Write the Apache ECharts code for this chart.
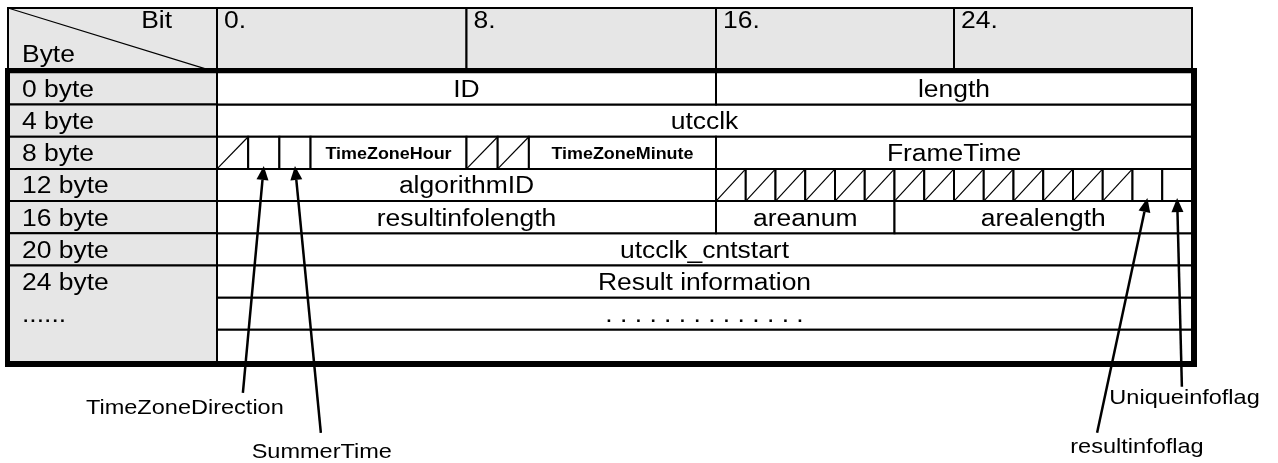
<!DOCTYPE html>
<html><head><meta charset="utf-8">
<script src="https://cdn.jsdelivr.net/npm/echarts@6/dist/echarts.min.js"></script>
<style>html,body{margin:0;padding:0;background:#fff}#c{width:1278px;height:463px}</style>
</head><body><div id="c"></div>
<script>
// ---------- data ----------
const cornerLabels = ['Bit', 'Byte'];
const lowBitHeaders = [[0, 8, '0.'], [8, 16, '8.']];
const highBitHeaders = [[16, 24, '16.'], [24, 32, '24.']];
// byte column cells: [fromRow, toRow, labels...]
const byteCells = [
  [0, 1, ['0 byte']],
  [1, 2, ['4 byte']],
  [2, 3, ['8 byte']],
  [3, 4, ['12 byte']],
  [4, 5, ['16 byte']],
  [5, 6, ['20 byte']],
  [6, 9, ['24 byte', '......']]
];
// fields: [row, fromBit, toBit, label, kind]
const lowFields = [
  [0, 0, 16, 'ID', 'text'],
  [2, 0, 1, '', 'reserved'],
  [2, 1, 2, '', 'flag'],
  [2, 2, 3, '', 'flag'],
  [2, 3, 8, 'TimeZoneHour', 'small'],
  [2, 8, 9, '', 'reserved'],
  [2, 9, 10, '', 'reserved'],
  [2, 10, 16, 'TimeZoneMinute', 'small'],
  [3, 0, 16, 'algorithmID', 'text'],
  [4, 0, 16, 'resultinfolength', 'text']
];
const highFields = [
  [0, 16, 32, 'length', 'text'],
  [2, 16, 32, 'FrameTime', 'text'],
  [3, 16, 17, '', 'reserved'],
  [3, 17, 18, '', 'reserved'],
  [3, 18, 19, '', 'reserved'],
  [3, 19, 20, '', 'reserved'],
  [3, 20, 21, '', 'reserved'],
  [3, 21, 22, '', 'reserved'],
  [3, 22, 23, '', 'reserved'],
  [3, 23, 24, '', 'reserved'],
  [3, 24, 25, '', 'reserved'],
  [3, 25, 26, '', 'reserved'],
  [3, 26, 27, '', 'reserved'],
  [3, 27, 28, '', 'reserved'],
  [3, 28, 29, '', 'reserved'],
  [3, 29, 30, '', 'reserved'],
  [3, 30, 31, '', 'flag'],
  [3, 31, 32, '', 'flag'],
  [4, 16, 22, 'areanum', 'text'],
  [4, 22, 32, 'arealength', 'text']
];
const fullFields = [
  [1, 0, 32, 'utcclk', 'text'],
  [5, 0, 32, 'utcclk_cntstart', 'text'],
  [6, 0, 32, 'Result information', 'text'],
  [7, 0, 32, '. . . . . . . . . . . . . .', 'text'],
  [8, 0, 32, '', 'text']
];
// callouts: [label, row, bit, lineEndBit, lineEndRow, labelBit, labelRow]
const lowCallouts = [
  ['TimeZoneDirection', 2, 1.5, 0.83, 9.96, -1.03, 10.43],
  ['SummerTime', 2, 2.5, 3.33, 11.2, 3.36, 11.79]
];
const highCallouts = [
  ['resultinfoflag', 3, 30.5, 28.81, 11.2, 30.15, 11.64],
  ['Uniqueinfoflag', 3, 31.5, 31.66, 9.77, 31.75, 10.12]
];

// ---------- style ----------
const FONT = '"Liberation Sans", Arial, Helvetica, sans-serif';
const STRETCH = 1.15;
const CALL_STRETCH = 1.12;
const MAIN = 23, SMALL = 16, CALL = 21;
const LINE = 2;
const GREY = '#e6e6e6';
const TEXT_DY = 2;

function txt(text, x, y, size, align, vAlign, bold, stretch) {
  return {
    type: 'text', x: x, y: y, scaleX: stretch || STRETCH, z2: 10,
    style: { text: text, x: 0, y: 0, fill: '#000', fontSize: size, fontFamily: FONT,
      fontWeight: bold ? 'bold' : 'normal', align: align, verticalAlign: vAlign }
  };
}
function rectOf(api, b0, r0, b1, r1) {
  const a = api.coord([b0, r0]), b = api.coord([b1, r1]);
  return { x: a[0], y: a[1], width: b[0] - a[0], height: b[1] - a[1] };
}
function fieldRender(list) {
  return function (params, api) {
    const f = list[params.dataIndex];
    const r = rectOf(api, f[1], f[0], f[2], f[0] + 1);
    const ch = [{ type: 'rect', shape: r, style: { fill: '#fff', stroke: '#000', lineWidth: LINE } }];
    if (f[4] === 'reserved') {
      ch.push({ type: 'line', shape: { x1: r.x, y1: r.y + r.height, x2: r.x + r.width, y2: r.y },
        style: { stroke: '#000', lineWidth: 1.2 } });
    }
    if (f[3]) {
      const small = f[4] === 'small';
      ch.push(txt(f[3], r.x + r.width / 2, r.y + r.height / 2 + TEXT_DY, small ? SMALL : MAIN, 'center', 'middle', small, small ? 1.12 : STRETCH));
    }
    return { type: 'group', children: ch };
  };
}
function bitHeaderRender(list) {
  return function (params, api) {
    const h = list[params.dataIndex];
    const r = rectOf(api, h[0], -2, h[1], 0);
    return { type: 'group', children: [
      { type: 'rect', shape: r, style: { fill: GREY, stroke: '#000', lineWidth: LINE } },
      txt(h[2], r.x + 7, r.y + 2, MAIN, 'left', 'top')
    ] };
  };
}
function cornerRender(params, api) {
  const r = rectOf(api, 0, -2, 1, 0);
  return { type: 'group', children: [
    { type: 'rect', shape: r, style: { fill: GREY, stroke: '#000', lineWidth: LINE } },
    { type: 'line', shape: { x1: r.x, y1: r.y, x2: r.x + r.width, y2: r.y + r.height }, style: { stroke: '#000', lineWidth: 1.2 } },
    txt(cornerLabels[0], r.x + r.width - 45, r.y + 2, MAIN, 'right', 'top'),
    txt(cornerLabels[1], r.x + 14, r.y + r.height - 5, MAIN, 'left', 'bottom')
  ] };
}
function byteRender(params, api) {
  const c = byteCells[params.dataIndex];
  const r = rectOf(api, 0, c[0], 1, c[1]);
  const ch = [{ type: 'rect', shape: r, style: { fill: GREY, stroke: '#000', lineWidth: LINE } }];
  c[2].forEach(function (lab, i) {
    const p = api.coord([0, c[0] + i + 0.5]);
    ch.push(txt(lab, p[0] + 14, p[1] + TEXT_DY, MAIN, 'left', 'middle'));
  });
  return { type: 'group', children: ch };
}
function calloutRender(list) {
  return function (params, api) {
    const c = list[params.dataIndex];
    const tip = api.coord([c[2], c[1] + 1]); tip[1] -= 3;
    const end = api.coord([c[3], c[4]]);
    const lab = api.coord([c[5], c[6]]);
    const dx = tip[0] - end[0], dy = tip[1] - end[1], len = Math.hypot(dx, dy);
    const ux = dx / len, uy = dy / len, L = 14, W = 6;
    const bx = tip[0] - ux * L, by = tip[1] - uy * L;
    return { type: 'group', children: [
      { type: 'line', shape: { x1: end[0], y1: end[1], x2: bx, y2: by }, style: { stroke: '#000', lineWidth: 2.5 } },
      { type: 'polygon', shape: { points: [tip, [bx - uy * W, by + ux * W], [bx + uy * W, by - ux * W]] }, style: { fill: '#000' } },
      txt(c[0], lab[0], lab[1], CALL, 'center', 'middle', false, CALL_STRETCH)
    ] };
  };
}

// ---------- chart ----------
const chart = echarts.init(document.getElementById('c'), null, { renderer: 'canvas' });
const TOP = 8, HEIGHT = 354;
const grids = [
  { left: 8, width: 209, top: TOP, height: HEIGHT },
  { left: 217, width: 499, top: TOP, height: HEIGHT },
  { left: 716, width: 476, top: TOP, height: HEIGHT },
  { left: 217, width: 975, top: TOP, height: HEIGHT },
  { left: 7.5, width: 1187, top: 70.5, height: 294, show: true, borderWidth: 5, borderColor: '#000', backgroundColor: 'transparent', z: 5 }
];
const xr = [[0, 1], [0, 16], [16, 32], [0, 32], [0, 1]];
const xAxis = xr.map(function (m, i) { return { gridIndex: i, type: 'value', min: m[0], max: m[1], show: false }; });
const yAxis = xr.map(function (m, i) { return { gridIndex: i, type: 'value', min: -2, max: 9, inverse: true, show: false }; });

function cs(idx, data, render, z) {
  return { type: 'custom', xAxisIndex: idx, yAxisIndex: idx, data: data, renderItem: render,
    encode: { x: 0, y: 1 }, silent: true, animation: false, clip: false, z: z || 2 };
}
chart.setOption({
  animation: false,
  grid: grids, xAxis: xAxis, yAxis: yAxis,
  series: [
    cs(0, [[0, -2]], cornerRender),
    cs(0, byteCells.map(function (c) { return [0, c[0]]; }), byteRender),
    cs(1, lowBitHeaders.map(function (h) { return [h[0], -2]; }), bitHeaderRender(lowBitHeaders)),
    cs(2, highBitHeaders.map(function (h) { return [h[0], -2]; }), bitHeaderRender(highBitHeaders)),
    cs(3, fullFields.map(function (f) { return [f[1], f[0]]; }), fieldRender(fullFields)),
    cs(1, lowFields.map(function (f) { return [f[1], f[0]]; }), fieldRender(lowFields)),
    cs(2, highFields.map(function (f) { return [f[1], f[0]]; }), fieldRender(highFields)),
    cs(1, lowCallouts.map(function (c) { return [c[2], c[1]]; }), calloutRender(lowCallouts), 10),
    cs(2, highCallouts.map(function (c) { return [c[2], c[1]]; }), calloutRender(highCallouts), 10)
  ]
});
</script></body></html>
